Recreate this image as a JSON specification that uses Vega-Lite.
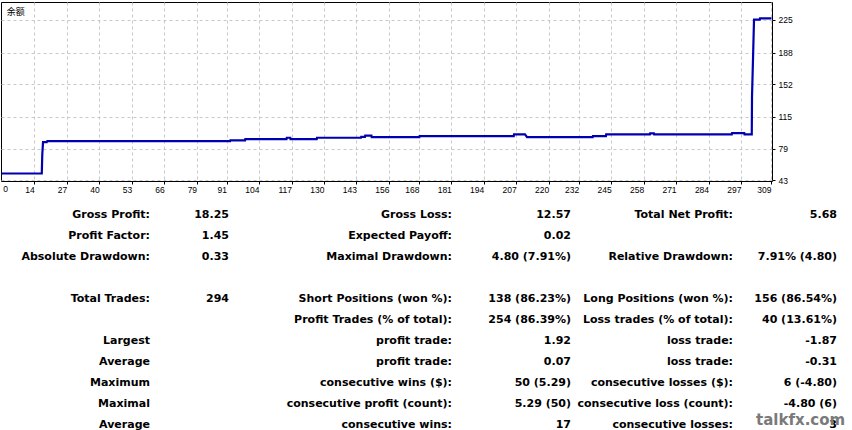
{
  "$schema": "https://vega.github.io/schema/vega-lite/v6.json",
  "background": "white",
  "padding": {"left": -4, "top": 1, "right": 0, "bottom": 0},
  "spacing": 13,
  "bounds": "flush",
  "config": {"view": {"stroke": "black", "strokeWidth": 1}},
  "vconcat": [
    {
      "width": 771,
      "height": 179,
      "layer": [
        {
          "data": {"values": [
            {"trade": 0.9, "balance": 50.7}, {"trade": 17, "balance": 50.7}, {"trade": 17.2, "balance": 72.3},
            {"trade": 17.5, "balance": 86.3}, {"trade": 19, "balance": 86.3}, {"trade": 19.2, "balance": 87.5},
            {"trade": 92.4, "balance": 87.5}, {"trade": 92.5, "balance": 88.3}, {"trade": 98.4, "balance": 88.3},
            {"trade": 98.5, "balance": 89.8}, {"trade": 115, "balance": 89.8}, {"trade": 115.1, "balance": 91.3},
            {"trade": 116.5, "balance": 91.3}, {"trade": 116.6, "balance": 89.8}, {"trade": 127.1, "balance": 89.8},
            {"trade": 127.2, "balance": 91.3}, {"trade": 144.8, "balance": 91.3}, {"trade": 144.9, "balance": 92.3},
            {"trade": 146.4, "balance": 92.3}, {"trade": 146.5, "balance": 93.6}, {"trade": 149, "balance": 93.6},
            {"trade": 149.1, "balance": 92.1}, {"trade": 168.2, "balance": 92.1}, {"trade": 168.3, "balance": 93.2},
            {"trade": 206, "balance": 93.2}, {"trade": 206.1, "balance": 95.1}, {"trade": 210.5, "balance": 95.1},
            {"trade": 211.3, "balance": 92.1}, {"trade": 237.6, "balance": 92.1}, {"trade": 237.7, "balance": 93.2},
            {"trade": 242.9, "balance": 93.2}, {"trade": 243, "balance": 95.1}, {"trade": 260.5, "balance": 95.1},
            {"trade": 260.6, "balance": 96.3}, {"trade": 262.1, "balance": 96.3}, {"trade": 262.2, "balance": 95.1},
            {"trade": 293.3, "balance": 95.1}, {"trade": 293.4, "balance": 96.6}, {"trade": 298.3, "balance": 96.6},
            {"trade": 298.4, "balance": 95.1}, {"trade": 301.3, "balance": 95.1}, {"trade": 301.4, "balance": 138.4},
            {"trade": 301.8, "balance": 181.4}, {"trade": 302.2, "balance": 225.4}, {"trade": 304.5, "balance": 225.4},
            {"trade": 304.6, "balance": 226.9}, {"trade": 309.2, "balance": 226.9}
          ]},
          "mark": {"type": "line", "color": "#0000b0", "strokeWidth": 2.2, "interpolate": "linear"},
          "encoding": {
            "x": {
              "field": "trade", "type": "quantitative",
              "scale": {"domain": [0.67, 309.4], "nice": false, "zero": false},
              "axis": {
                "title": null,
                "values": [14, 27, 40, 53, 66, 79, 91, 104, 117, 130, 143, 156, 168, 181, 194, 207, 220, 232, 245, 258, 271, 284, 297, 309],
                "tickCount": 100,
                "format": "d",
                "labelAlign": "right",
                "labelFlush": false,
                "labelDx": -0.5,
                "labelOverlap": false,
                "labelBound": false,
                "labelFont": "Liberation Sans",
                "labelFontSize": 8.5,
                "labelColor": "black",
                "labelPadding": 1,
                "tickSize": 3,
                "tickColor": "black",
                "domain": false,
                "grid": true,
                "gridDash": [3, 3],
                "gridColor": "#c8c8c8"
              }
            },
            "y": {
              "field": "balance", "type": "quantitative",
              "scale": {"domain": [42.2, 245.4], "nice": false, "zero": false},
              "axis": {
                "title": null,
                "orient": "right",
                "values": [43, 79, 115, 152, 188, 225],
                "tickCount": 100,
                "labelFlush": false,
                "labelOverlap": false,
                "labelFont": "Liberation Sans",
                "labelFontSize": 8.5,
                "labelColor": "black",
                "labelPadding": 3,
                "labelDy": -1,
                "tickSize": 3,
                "tickColor": "black",
                "domain": false,
                "grid": true,
                "gridDash": [3, 3],
                "gridColor": "#c8c8c8"
              }
            }
          }
        },
        {
          "data": {"values": [{"label": "余额"}]},
          "mark": {"type": "text", "align": "left", "baseline": "middle", "font": "Noto Sans CJK SC", "fontSize": 9, "color": "black"},
          "encoding": {
            "x": {"datum": 2.95, "type": "quantitative"},
            "y": {"datum": 234.4, "type": "quantitative"},
            "text": {"field": "label"}
          }
        },
        {
          "data": {"values": [{"label": "0"}]},
          "mark": {"type": "text", "align": "left", "baseline": "middle", "font": "Liberation Sans", "fontSize": 8.5, "color": "black"},
          "encoding": {
            "x": {"datum": 1.6, "type": "quantitative"},
            "y": {"datum": 33.2, "type": "quantitative"},
            "text": {"field": "label"}
          }
        }
      ]
    },
    {
      "width": 851,
      "height": 231,
      "view": {"stroke": null},
      "layer": [
        {
          "data": {"values": [
            {"r": 1, "c": 1, "t": "Gross Profit:"}, {"r": 1, "c": 2, "t": "18.25"},
            {"r": 1, "c": 3, "t": "Gross Loss:"}, {"r": 1, "c": 4, "t": "12.57"},
            {"r": 1, "c": 5, "t": "Total Net Profit:"}, {"r": 1, "c": 6, "t": "5.68"},
            {"r": 2, "c": 1, "t": "Profit Factor:"}, {"r": 2, "c": 2, "t": "1.45"},
            {"r": 2, "c": 3, "t": "Expected Payoff:"}, {"r": 2, "c": 4, "t": "0.02"},
            {"r": 3, "c": 1, "t": "Absolute Drawdown:"}, {"r": 3, "c": 2, "t": "0.33"},
            {"r": 3, "c": 3, "t": "Maximal Drawdown:"}, {"r": 3, "c": 4, "t": "4.80 (7.91%)"},
            {"r": 3, "c": 5, "t": "Relative Drawdown:"}, {"r": 3, "c": 6, "t": "7.91% (4.80)"},
            {"r": 5, "c": 1, "t": "Total Trades:"}, {"r": 5, "c": 2, "t": "294"},
            {"r": 5, "c": 3, "t": "Short Positions (won %):"}, {"r": 5, "c": 4, "t": "138 (86.23%)"},
            {"r": 5, "c": 5, "t": "Long Positions (won %):"}, {"r": 5, "c": 6, "t": "156 (86.54%)"},
            {"r": 6, "c": 3, "t": "Profit Trades (% of total):"}, {"r": 6, "c": 4, "t": "254 (86.39%)"},
            {"r": 6, "c": 5, "t": "Loss trades (% of total):"}, {"r": 6, "c": 6, "t": "40 (13.61%)"},
            {"r": 7, "c": 1, "t": "Largest"}, {"r": 7, "c": 3, "t": "profit trade:"}, {"r": 7, "c": 4, "t": "1.92"},
            {"r": 7, "c": 5, "t": "loss trade:"}, {"r": 7, "c": 6, "t": "-1.87"},
            {"r": 8, "c": 1, "t": "Average"}, {"r": 8, "c": 3, "t": "profit trade:"}, {"r": 8, "c": 4, "t": "0.07"},
            {"r": 8, "c": 5, "t": "loss trade:"}, {"r": 8, "c": 6, "t": "-0.31"},
            {"r": 9, "c": 1, "t": "Maximum"}, {"r": 9, "c": 3, "t": "consecutive wins ($):"}, {"r": 9, "c": 4, "t": "50 (5.29)"},
            {"r": 9, "c": 5, "t": "consecutive losses ($):"}, {"r": 9, "c": 6, "t": "6 (-4.80)"},
            {"r": 10, "c": 1, "t": "Maximal"}, {"r": 10, "c": 3, "t": "consecutive profit (count):"}, {"r": 10, "c": 4, "t": "5.29 (50)"},
            {"r": 10, "c": 5, "t": "consecutive loss (count):"}, {"r": 10, "c": 6, "t": "-4.80 (6)"},
            {"r": 11, "c": 1, "t": "Average"}, {"r": 11, "c": 3, "t": "consecutive wins:"}, {"r": 11, "c": 4, "t": "17"},
            {"r": 11, "c": 5, "t": "consecutive losses:"}, {"r": 11, "c": 6, "t": "3"}
          ]},
          "mark": {"type": "text", "align": "right", "baseline": "middle", "font": "DejaVu Sans", "fontSize": 11, "fontWeight": "bold", "color": "black"},
          "encoding": {
            "x": {"field": "c", "type": "quantitative", "scale": {"domain": [1, 2, 3, 4, 5, 6], "range": [149, 228, 451, 570, 732, 836], "nice": false, "zero": false}, "axis": null},
            "y": {"field": "r", "type": "quantitative", "scale": {"domain": [0, 11], "reverse": true, "nice": false, "zero": false}, "axis": null},
            "text": {"field": "t"}
          }
        },
        {
          "data": {"values": [{"wm": "talkfx.com"}]},
          "mark": {"type": "text", "align": "center", "baseline": "alphabetic", "font": "DejaVu Sans", "fontSize": 15, "fontWeight": "bold", "color": "#7a7a7a"},
          "encoding": {
            "x": {"datum": 5.65, "type": "quantitative"},
            "y": {"datum": 11, "type": "quantitative"},
            "text": {"field": "wm"}
          }
        }
      ]
    }
  ]
}
